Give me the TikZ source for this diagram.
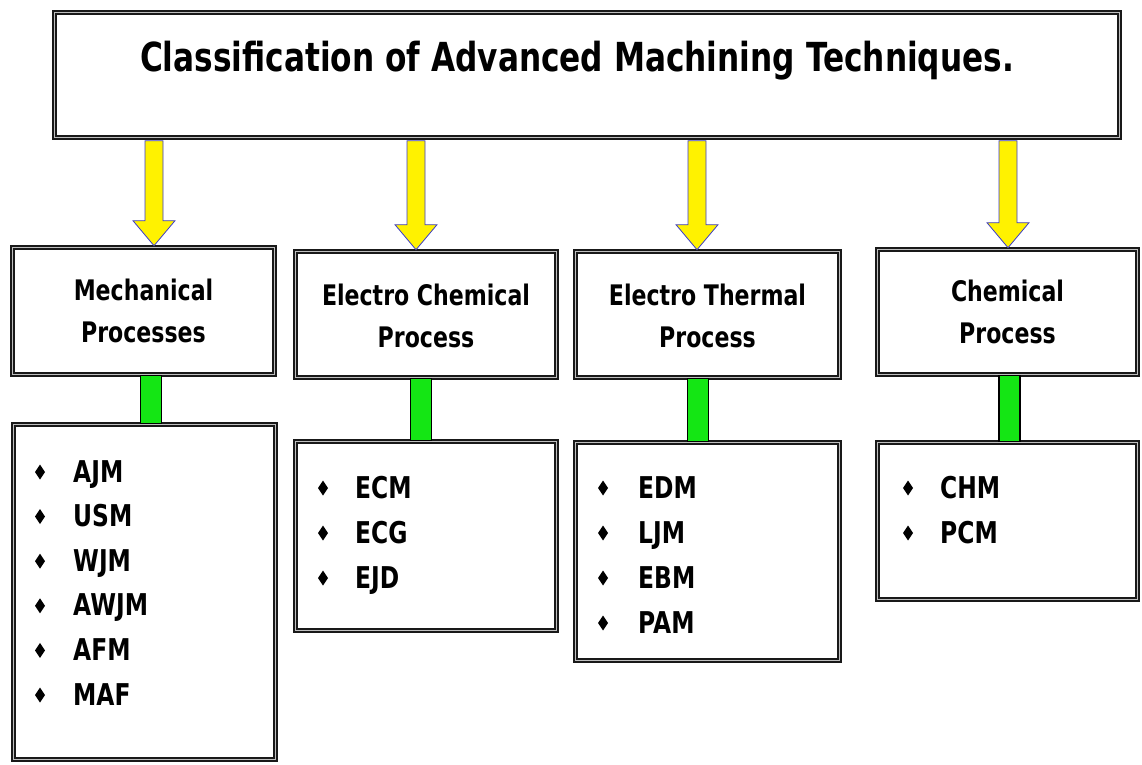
\documentclass[tikz,border=0pt]{standalone}
\usepackage{fontspec}
\setmainfont{DejaVu Sans}[FakeStretch=0.78]
\usetikzlibrary{calc}
\definecolor{gbright}{RGB}{20,230,20}
\definecolor{aline}{RGB}{60,60,200}
\tikzset{
  frame/.style={rectangle, draw=black!90, line width=1.6pt, double=gray!50, double distance=1.8pt, fill=white, inner sep=0pt},
  cattext/.style={font=\bfseries\fontsize{28.3}{42}\selectfont, align=center, inner sep=0pt},
  itemtext/.style={font=\bfseries\fontsize{30}{32}\selectfont, anchor=base west, inner sep=0pt},
  titletext/.style={font=\bfseries\fontsize{40}{44}\selectfont, anchor=base, inner sep=0pt},
  yarrow/.style={fill=yellow, draw=aline, line width=0.8pt, line join=miter},
  gbar/.style={fill=gbright, draw=black, line width=1.5pt},
  bul/.style={fill=black}
}
\begin{document}
\begin{tikzpicture}[x=1pt,y=-1pt]
\useasboundingbox (0,0) rectangle (1142,764);
% title
\node[frame, minimum width=1065pt, minimum height=125pt] (title) at (587,75) {};
\node[titletext] (ttext) at (577,71) {Classification of Advanced Machining Techniques.};
% categories
\node[frame, minimum width=262pt, minimum height=127pt] (mech) at (143.5,311) {};
\node[frame, minimum width=261pt, minimum height=126pt] (echem) at (426,314.5) {};
\node[frame, minimum width=264pt, minimum height=126pt] (etherm) at (707.5,314.5) {};
\node[frame, minimum width=260pt, minimum height=125pt] (chem) at (1007.5,312) {};
\node[cattext] (tmech) at (mech) {Mechanical\\Processes};
\node[cattext] (techem) at ([yshift=-1pt]echem) {Electro Chemical\\Process};
\node[cattext] (tetherm) at ([yshift=-1pt]etherm) {Electro Thermal\\Process};
\node[cattext] (tchem) at (chem) {Chemical\\Process};
% lists
\node[frame, minimum width=262pt, minimum height=335pt] (list1) at (144.5,592) {};
\node[frame, minimum width=261pt, minimum height=189pt] (list2) at (426,536) {};
\node[frame, minimum width=264pt, minimum height=218pt] (list3) at (707.5,551.5) {};
\node[frame, minimum width=260pt, minimum height=157pt] (list4) at (1007.5,521) {};
% yellow arrows
\coordinate (a1) at (154,0);
\coordinate (a2) at (416,0);
\coordinate (a3) at (697,0);
\coordinate (a4) at (1008,0);
\foreach \a/\c in {a1/mech,a2/echem,a3/etherm,a4/chem}{
  \draw[yarrow] let \p1=(\a |- title.south), \p2=(\a |- \c.north) in
    (\x1-9pt,\y1-2.5pt) -- (\x1-9pt,\y2+26pt) -- (\x1-21pt,\y2+26pt) -- (\x1,\y2+1pt)
    -- (\x1+21pt,\y2+26pt) -- (\x1+9pt,\y2+26pt) -- (\x1+9pt,\y1-2.5pt) -- cycle;
}
% green bars
\coordinate (g1) at (151,0);
\coordinate (g2) at (421,0);
\coordinate (g3) at (698,0);
\coordinate (g4) at (1009.5,0);
\foreach \g/\c/\l in {g1/mech/list1,g2/echem/list2,g3/etherm/list3,g4/chem/list4}{
  \draw[gbar] let \p1=(\g |- \c.south), \p2=(\g |- \l.north) in
    (\x1-10.5pt,\y1) rectangle (\x1+10.5pt,\y2);
}
% items
\foreach \t [count=\i] in {AJM,USM,WJM,AWJM,AFM,MAF}{
  \fill[bul] (40,{472+44.6*(\i-1)}) +(0,-7.5) -- +(5,0) -- +(0,7.5) -- +(-5,0) -- cycle;
  \node[itemtext] (m\i) at (73,{482+44.6*(\i-1)}) {\t};
}
\foreach \t [count=\i] in {ECM,ECG,EJD}{
  \fill[bul] (323,{488+45*(\i-1)}) +(0,-7.5) -- +(5,0) -- +(0,7.5) -- +(-5,0) -- cycle;
  \node[itemtext] (c\i) at (355,{498+45*(\i-1)}) {\t};
}
\foreach \t [count=\i] in {EDM,LJM,EBM,PAM}{
  \fill[bul] (603,{488+45*(\i-1)}) +(0,-7.5) -- +(5,0) -- +(0,7.5) -- +(-5,0) -- cycle;
  \node[itemtext] (e\i) at (638,{498+45*(\i-1)}) {\t};
}
\foreach \t [count=\i] in {CHM,PCM}{
  \fill[bul] (908,{488+45*(\i-1)}) +(0,-7.5) -- +(5,0) -- +(0,7.5) -- +(-5,0) -- cycle;
  \node[itemtext] (h\i) at (940,{498+45*(\i-1)}) {\t};
}
\end{tikzpicture}
\end{document}
